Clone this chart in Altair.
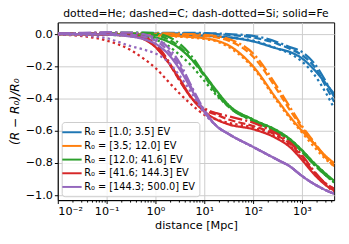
import altair as alt
import pandas as pd

# distance sample positions [Mpc]
X = [0.01, 0.0316, 0.1, 0.316, 0.562, 1.0, 1.78, 3.16, 5.62, 10.0, 17.8, 31.6,
     100.0, 316.0, 562.0, 1000.0, 1778.0, 3162.0, 4570.0]

bins = ["R₀ = [1.0; 3.5] EV", "R₀ = [3.5; 12.0] EV", "R₀ = [12.0; 41.6] EV",
        "R₀ = [41.6; 144.3] EV", "R₀ = [144.3; 500.0] EV"]
species = ["He", "C", "Si", "Fe"]
colors = ["#1f77b4", "#ff7f0e", "#2ca02c", "#d62728", "#9467bd"]

# bin 1: [1.0; 3.5] EV
b1_he = [0, 0, 0, 0, 0, 0, -0.002, -0.004, -0.006, -0.01, -0.015, -0.02, -0.04, -0.09, -0.12, -0.17, -0.25, -0.37, -0.46]
b1_c = [0.003, 0.004, 0.004, 0.005, 0.005, 0.005, 0.005, 0.005, 0.004, 0.003, 0, -0.005, -0.02, -0.06, -0.09, -0.13, -0.2, -0.33, -0.42]
b1_si = [0.003, 0.005, 0.006, 0.007, 0.008, 0.008, 0.008, 0.008, 0.008, 0.007, 0.005, 0.0, -0.01, -0.05, -0.08, -0.11, -0.18, -0.3, -0.39]
b1_fe = [0, 0, 0, 0, 0, -0.002, -0.003, -0.005, -0.007, -0.01, -0.014, -0.02, -0.045, -0.09, -0.11, -0.15, -0.22, -0.31, -0.37]
# bin 2: [3.5; 12.0] EV
b2_he = [0, 0, -0.001, -0.003, -0.005, -0.008, -0.011, -0.016, -0.022, -0.03, -0.045, -0.08, -0.21, -0.42, -0.52, -0.61, -0.7, -0.78, -0.82]
b2_c = [0.002, 0.003, 0.003, 0.003, 0.003, 0.002, 0.0, -0.002, -0.005, -0.01, -0.02, -0.04, -0.14, -0.35, -0.47, -0.58, -0.68, -0.77, -0.82]
b2_si = [0.003, 0.004, 0.005, 0.006, 0.006, 0.006, 0.005, 0.003, 0.0, -0.005, -0.012, -0.03, -0.12, -0.33, -0.45, -0.57, -0.67, -0.77, -0.81]
b2_fe = [0, 0, -0.001, -0.003, -0.004, -0.006, -0.009, -0.013, -0.018, -0.025, -0.04, -0.07, -0.2, -0.41, -0.51, -0.6, -0.68, -0.76, -0.8]
# bin 3: [12.0; 41.6] EV
b3_he = [0, -0.001, -0.004, -0.012, -0.02, -0.035, -0.07, -0.13, -0.2, -0.29, -0.38, -0.45, -0.53, -0.6, -0.65, -0.72, -0.8, -0.87, -0.92]
b3_c = [0.003, 0.004, 0.005, 0.004, 0.002, -0.005, -0.03, -0.08, -0.16, -0.26, -0.37, -0.45, -0.54, -0.61, -0.66, -0.73, -0.81, -0.88, -0.92]
b3_si = [0.004, 0.006, 0.008, 0.01, 0.01, 0.005, -0.015, -0.06, -0.14, -0.25, -0.36, -0.45, -0.54, -0.61, -0.66, -0.73, -0.81, -0.88, -0.92]
b3_fe = [0, 0, -0.002, -0.006, -0.01, -0.02, -0.045, -0.09, -0.16, -0.25, -0.35, -0.44, -0.53, -0.6, -0.65, -0.72, -0.8, -0.87, -0.91]
# bin 4: [41.6; 144.3] EV
b4_he = [-0.003, -0.012, -0.04, -0.1, -0.15, -0.21, -0.29, -0.37, -0.44, -0.5, -0.53, -0.55, -0.58, -0.64, -0.69, -0.77, -0.86, -0.94, -0.98]
b4_c = [0.002, 0.003, 0.002, -0.005, -0.025, -0.08, -0.17, -0.29, -0.4, -0.47, -0.5, -0.53, -0.57, -0.63, -0.68, -0.76, -0.86, -0.93, -0.96]
b4_si = [0.004, 0.006, 0.008, 0.005, -0.015, -0.06, -0.16, -0.29, -0.4, -0.46, -0.49, -0.51, -0.55, -0.62, -0.67, -0.75, -0.85, -0.93, -0.96]
b4_fe = [0, -0.001, -0.003, -0.012, -0.03, -0.08, -0.17, -0.28, -0.4, -0.48, -0.53, -0.56, -0.59, -0.65, -0.7, -0.78, -0.87, -0.94, -0.97]
# bin 5: [144.3; 500.0] EV
b5_he = [-0.002, -0.008, -0.025, -0.075, -0.095, -0.12, -0.17, -0.26, -0.37, -0.49, -0.57, -0.62, -0.7, -0.78, -0.82, -0.88, -0.93, -0.97, -0.99]
b5_c = [0.003, 0.004, 0.003, -0.005, -0.015, -0.04, -0.1, -0.2, -0.34, -0.48, -0.57, -0.62, -0.7, -0.78, -0.82, -0.88, -0.93, -0.97, -0.99]
b5_si = [0.005, 0.008, 0.012, 0.01, 0.0, -0.025, -0.08, -0.18, -0.33, -0.47, -0.57, -0.62, -0.7, -0.78, -0.82, -0.88, -0.93, -0.97, -0.99]
b5_fe = [0, 0, -0.003, -0.015, -0.03, -0.06, -0.12, -0.22, -0.35, -0.48, -0.57, -0.62, -0.7, -0.78, -0.82, -0.88, -0.93, -0.97, -0.99]

series = [
    [b1_he, b1_c, b1_si, b1_fe],
    [b2_he, b2_c, b2_si, b2_fe],
    [b3_he, b3_c, b3_si, b3_fe],
    [b4_he, b4_c, b4_si, b4_fe],
    [b5_he, b5_c, b5_si, b5_fe],
]

rows = []
for bi, b in enumerate(bins):
    for si, s in enumerate(species):
        for x, y in zip(X, series[bi][si]):
            rows.append({"x": x, "y": y, "bin": b, "species": s, "key": f"{bi}-{si}"})
df = pd.DataFrame(rows)

ticks = []
for d in range(-2, 4):
    for k in range(1, 10):
        v = round(k * 10 ** d, 6)
        if v <= 4570:
            ticks.append(v)

is_major = "abs(log(datum.value)/LN10 - round(log(datum.value)/LN10)) < 0.001"
lab = ("abs(log(datum.value)/LN10 - round(log(datum.value)/LN10)) > 0.001 ? '' : "
       "round(log(datum.value)/LN10) == -2 ? '10⁻²' : "
       "round(log(datum.value)/LN10) == -1 ? '10⁻¹' : "
       "round(log(datum.value)/LN10) == 0 ? '10⁰' : "
       "round(log(datum.value)/LN10) == 1 ? '10¹' : "
       "round(log(datum.value)/LN10) == 2 ? '10²' : '10³'")

chart = alt.Chart(df).mark_line(strokeWidth=2.3, interpolate="monotone", strokeCap="butt", clip=True).encode(
    x=alt.X("x:Q", scale=alt.Scale(type="log", domain=[0.01, 4570], nice=False),
            axis=alt.Axis(values=ticks, labelExpr=lab, labelOverlap=False, labelBound=False,
                          tickSize={"condition": {"test": is_major, "value": 3.5}, "value": 2},
                          gridOpacity={"condition": {"test": is_major, "value": 1}, "value": 0},
                          title="distance [Mpc]", titlePadding=3)),
    y=alt.Y("y:Q", scale=alt.Scale(domain=[-1.03, 0.073], nice=False, zero=False),
            axis=alt.Axis(values=[0, -0.2, -0.4, -0.6, -0.8, -1.0], format=".1f",
                          tickSize=3.5, title="(R − R₀)/R₀", titleFontStyle="italic",
                          titleFontSize=12.5, titlePadding=4)),
    color=alt.Color("bin:N", scale=alt.Scale(domain=bins, range=colors),
                    legend=alt.Legend(title=None, orient="bottom-left", offset=4,
                                      fillColor="rgba(255,255,255,0.8)", strokeColor="#cccccc",
                                      cornerRadius=3, padding=4, symbolType="M-1.8,0H1.8",
                                      symbolSize=121, symbolStrokeWidth=2, labelFontSize=10,
                                      rowPadding=2, labelOffset=6)),
    strokeDash=alt.StrokeDash("species:N", scale=alt.Scale(domain=species,
                              range=[[2.5, 3.2], [7.4, 3.2], [12.8, 3.2, 2.2, 3.2], [1, 0]]), legend=None),
    detail="key:N",
).properties(
    width=283, height=182,
    title=alt.Title("dotted=He; dashed=C; dash-dotted=Si; solid=Fe", fontSize=11,
                    fontWeight="normal", offset=4),
    autosize="none",
    padding={"left": 51, "top": 12, "right": 7, "bottom": 34},
).configure(font="DejaVu Sans").configure_view(stroke="black", strokeWidth=1).configure_axis(
    labelFontSize=11.5, titleFontSize=11.5, titleFontWeight="normal", labelColor="black",
    titleColor="black", domainColor="black", tickColor="black", gridColor="#cccccc",
    labelPadding=2,
).configure_legend(labelColor="black")

chart.save("out.html", embed_options={"renderer": "svg", "actions": False})
